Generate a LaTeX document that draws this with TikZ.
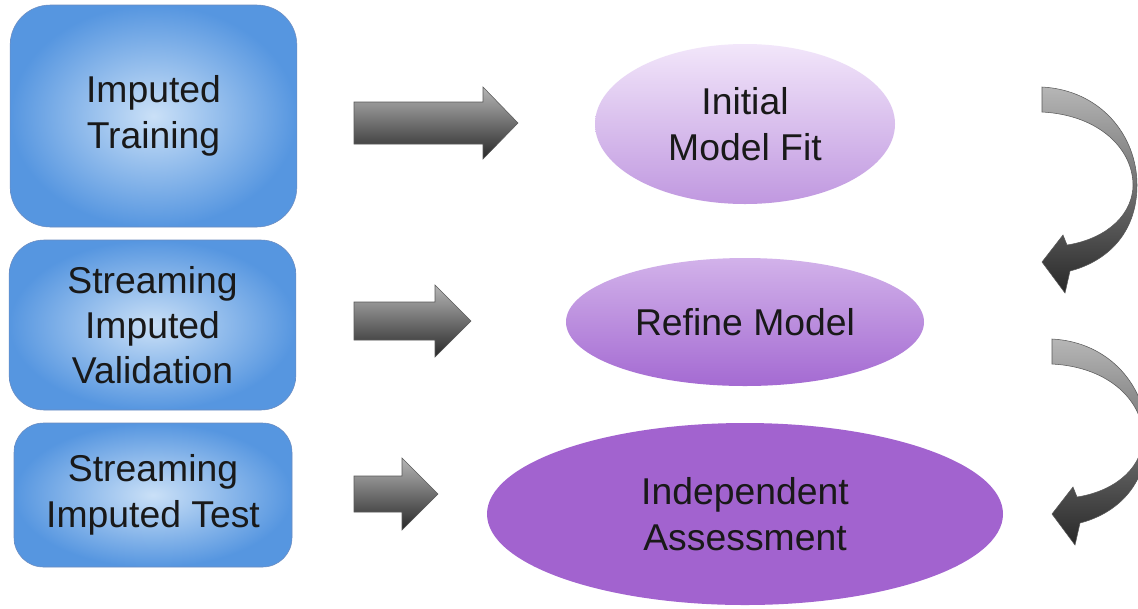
\documentclass[tikz,border=0pt]{standalone}
\usepackage{fontspec}
\setmainfont{Liberation Sans}
\usepackage{tikz}
\usetikzlibrary{shapes.geometric,positioning}
\definecolor{boxin}{RGB}{202,224,247}
\definecolor{boxout}{RGB}{86,150,224}
\definecolor{boxline}{RGB}{108,140,192}
\definecolor{fitTop}{RGB}{242,230,250}
\definecolor{fitBot}{RGB}{192,152,224}
\definecolor{refTop}{RGB}{210,178,234}
\definecolor{refBot}{RGB}{164,106,210}
\definecolor{assess}{RGB}{162,99,207}
\definecolor{arrTop}{RGB}{182,182,182}
\definecolor{arrBot}{RGB}{40,40,40}

\begin{document}
\begin{tikzpicture}[x=0.75pt, y=-0.75pt, font=\fontsize{28}{34}\selectfont]
   \clip (0,0) rectangle (1138,608);
   \fill[white] (0,0) rectangle (1138,608);
   \begin{scope}[every node/.style={rectangle, rounded corners=26pt, draw=boxline, inner color=boxin, outer color=boxout, align=center, text=black!90}]
    \node (train) [minimum width=215pt, minimum height=166.5pt, rounded corners=30pt] at (153.5,116) {Imputed\\Training};
    \node (valid) [minimum width=215pt, minimum height=127.5pt] at (152.5,325) {Streaming\\Imputed\\Validation};
    \node (test) [minimum width=208.5pt, minimum height=108pt, rounded corners=22pt] at (153,495) {Streaming\\Imputed Test};
   \end{scope}
   \begin{scope}[every node/.style={ellipse, inner sep=0pt, align=center, text=black!90}]
    \node (fit) [top color=fitTop, bottom color=fitBot, minimum width=225pt, minimum height=120pt] at (745,124) {Initial\\Model Fit};
    \node (refine) [top color=refTop, bottom color=refBot, minimum width=268.5pt, minimum height=96pt] at (745,322) {Refine Model};
    \node (indep) [fill=assess, minimum width=387pt, minimum height=136.5pt] at (745,514) {Independent\\Assessment};
   \end{scope}
   \begin{scope}[every path/.style={draw=black!65, thin, top color=arrTop, bottom color=arrBot}]
    \path (354,102) -- (483,102) -- (483,87) -- (518,123) -- (483,159) -- (483,144) -- (354,144) -- cycle;
    \path (354,302) -- (435,302) -- (435,285) -- (471,321) -- (435,357) -- (435,340) -- (354,340) -- cycle;
    \path (354,476) -- (402,476) -- (402,458) -- (438,494) -- (402,530) -- (402,512) -- (354,512) -- cycle;
    \path (1042,87) .. controls (1100,90) and (1137,135) .. (1137,185)
       .. controls (1137,235) and (1105,262) .. (1070,271)
       -- (1065,293) -- (1042,262) -- (1063,235) -- (1067,245)
       .. controls (1100,240) and (1131,220) .. (1133,187)
       .. controls (1134,150) and (1100,115) .. (1042,112) -- cycle;
    \path[shift={(10,252)}] (1042,87) .. controls (1100,90) and (1137,135) .. (1137,185)
       .. controls (1137,235) and (1105,262) .. (1070,271)
       -- (1065,293) -- (1042,262) -- (1063,235) -- (1067,245)
       .. controls (1100,240) and (1131,220) .. (1133,187)
       .. controls (1134,150) and (1100,115) .. (1042,112) -- cycle;
   \end{scope}
\end{tikzpicture}
\end{document}
